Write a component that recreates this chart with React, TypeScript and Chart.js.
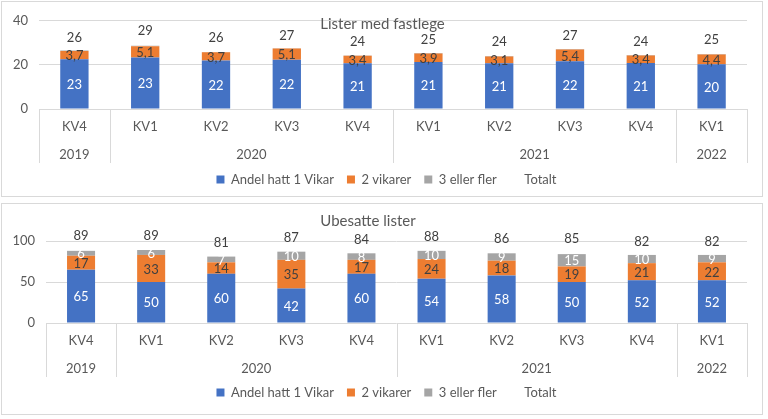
import React, { useEffect, useRef } from "react";
import { Chart, registerables } from "chart.js";
Chart.register(...registerables);

const quarters = ["KV4", "KV1", "KV2", "KV3", "KV4", "KV1", "KV2", "KV3", "KV4", "KV1"];
const years = ["2019", "2020", "2021", "2022"];
const yearSpans = [1, 4, 4, 1];
const seriesNames = ["Andel hatt 1 Vikar", "2 vikarer", "3 eller fler", "Totalt"];

const fastlegeOne = [22.6, 23.4, 22.0, 22.3, 20.7, 21.3, 20.7, 21.6, 20.9, 20.3];
const fastlegeTwo = [3.7, 5.1, 3.7, 5.1, 3.4, 3.9, 3.1, 5.4, 3.4, 4.4];
const fastlegeThree = [0.2, 0.2, 0.2, 0.2, 0.2, 0.2, 0.2, 0.2, 0.2, 0.2];
const fastlegeTotal = [26, 29, 26, 27, 24, 25, 24, 27, 24, 25];

const ubesatteOne = [65, 50, 60, 42, 60, 54, 58, 50, 52, 52];
const ubesatteTwo = [17, 33, 14, 35, 17, 24, 18, 19, 21, 22];
const ubesatteThree = [6, 6, 7, 10, 8, 10, 9, 15, 10, 9];
const ubesatteTotal = [89, 89, 81, 87, 84, 88, 86, 85, 82, 82];

const BLUE = "#4472C4";
const ORANGE = "#ED7D31";
const GRAY = "#A5A5A5";
const TEXT = "#595959";
const DARK = "#404040";
const GRID = "#D9D9D9";
const FONT = "Lato";

type Cfg = {
  title: string;
  titleX: number;
  titleY: number;
  height: number;
  one: number[];
  two: number[];
  three: number[];
  total: number[];
  yMax: number;
  yStep: number;
  padTop: number;
  padBottom: number;
  yWidth: number;
  xHeight: number;
  fmtTwo: (v: number) => string;
  showThree: boolean;
};

const intFmt = (v: number) => String(Math.round(v));
const decFmt = (v: number) => v.toFixed(1).replace(".", ",");

function ChartBox({ cfg, boxTop }: { cfg: Cfg; boxTop: number }) {
  const ref = useRef<HTMLCanvasElement | null>(null);
  useEffect(() => {
    if (!ref.current) return;
    const labelPlugin = {
      id: "segLabels",
      afterDatasetsDraw(chart: any) {
        const ctx = chart.ctx;
        ctx.save();
        ctx.font = `13px ${FONT}`;
        ctx.textAlign = "center";
        ctx.textBaseline = "middle";
        const specs = [
          { color: "#FFFFFF", fmt: intFmt, show: true },
          { color: DARK, fmt: cfg.fmtTwo, show: true },
          { color: "#FFFFFF", fmt: intFmt, show: cfg.showThree },
        ];
        specs.forEach((s, di) => {
          if (!s.show) return;
          const meta = chart.getDatasetMeta(di);
          meta.data.forEach((el: any, i: number) => {
            const v = chart.data.datasets[di].data[i];
            ctx.fillStyle = s.color;
            ctx.fillText(s.fmt(v), el.x, (el.y + el.base) / 2 + 1);
          });
        });
        const tmeta = chart.getDatasetMeta(3);
        ctx.fillStyle = DARK;
        tmeta.data.forEach((el: any, i: number) => {
          ctx.fillText(intFmt(chart.data.datasets[3].data[i]), el.x, el.y - 14);
        });
        ctx.restore();
      },
    };
    const axisPlugin = {
      id: "groupAxis",
      afterDraw(chart: any) {
        const ctx = chart.ctx;
        const xs = chart.scales.x;
        const bottom = chart.chartArea.bottom;
        const half = (xs.getPixelForValue(1) - xs.getPixelForValue(0)) / 2;
        ctx.save();
        ctx.strokeStyle = GRID;
        ctx.lineWidth = 1;
        ctx.font = `13px ${FONT}`;
        ctx.fillStyle = TEXT;
        ctx.textAlign = "center";
        ctx.textBaseline = "middle";
        const line = (x: number) => {
          ctx.beginPath();
          ctx.moveTo(Math.round(x) + 0.5, bottom);
          ctx.lineTo(Math.round(x) + 0.5, bottom + 54);
          ctx.stroke();
        };
        line(xs.getPixelForValue(0) - half);
        let idx = 0;
        yearSpans.forEach((span, k) => {
          const x0 = xs.getPixelForValue(idx) - half;
          const x1 = xs.getPixelForValue(idx + span - 1) + half;
          ctx.fillText(years[k], (x0 + x1) / 2, bottom + 46);
          line(x1);
          idx += span;
        });
        ctx.font = `15px ${FONT}`;
        ctx.fillText(cfg.title, cfg.titleX, cfg.titleY);
        ctx.restore();
      },
    };
    const chart = new Chart(ref.current, {
      type: "bar",
      data: {
        labels: quarters,
        datasets: [
          { label: seriesNames[0], data: cfg.one, backgroundColor: BLUE, stack: "s" } as any,
          { label: seriesNames[1], data: cfg.two, backgroundColor: ORANGE, stack: "s" },
          { label: seriesNames[2], data: cfg.three, backgroundColor: GRAY, stack: "s" },
          {
            type: "line",
            label: seriesNames[3],
            data: cfg.total,
            stack: "t",
            showLine: false,
            pointRadius: 0,
            backgroundColor: "rgba(0,0,0,0)",
            borderColor: "rgba(0,0,0,0)",
          },
        ],
      },
      plugins: [labelPlugin, axisPlugin],
      options: {
        animation: false,
        responsive: true,
        maintainAspectRatio: false,
        layout: { padding: { top: cfg.padTop, left: 9, right: 0, bottom: cfg.padBottom } },
        datasets: { bar: { barPercentage: 0.4, categoryPercentage: 1.0 } },
        scales: {
          x: {
            stacked: true,
            grid: { display: false, drawTicks: false },
            border: { display: false },
            ticks: { color: TEXT, font: { family: FONT, size: 13 }, padding: 10, maxRotation: 0 },
            afterFit: (s: any) => {
              s.height = cfg.xHeight;
            },
          },
          y: {
            stacked: true,
            min: 0,
            max: cfg.yMax,
            grid: { color: GRID, drawTicks: false },
            border: { display: false },
            ticks: { stepSize: cfg.yStep, color: TEXT, font: { family: FONT, size: 13 }, padding: 11 },
            afterFit: (s: any) => {
              s.width = cfg.yWidth;
            },
          },
          pad: {
            position: "right",
            display: true,
            grid: { display: false, drawTicks: false },
            border: { display: false },
            ticks: { display: false },
            afterFit: (s: any) => {
              s.width = 15;
            },
          },
        },
        plugins: {
          legend: {
            position: "bottom",
            labels: {
              color: TEXT,
              font: { family: FONT, size: 13 },
              boxWidth: 8,
              boxHeight: 8,
              padding: 13,
              generateLabels: (c: any) =>
                c.data.datasets.map((d: any, i: number) => ({
                  text: d.label,
                  fillStyle: i < 3 ? d.backgroundColor : "rgba(0,0,0,0)",
                  strokeStyle: "rgba(0,0,0,0)",
                  lineWidth: 0,
                  fontColor: TEXT,
                  datasetIndex: i,
                  hidden: false,
                })),
            },
          },
          tooltip: { enabled: false },
        },
      } as any,
    });
    return () => chart.destroy();
  }, [cfg]);
  return (
    <div
      style={{
        position: "absolute",
        left: 1,
        top: boxTop,
        width: 762,
        height: cfg.height + 2,
        border: "1px solid #D9D9D9",
        boxSizing: "border-box",
        background: "#fff",
      }}
    >
      <div style={{ position: "absolute", left: 0, top: 0, width: 760, height: cfg.height }}>
        <canvas ref={ref} />
      </div>
    </div>
  );
}

const topCfg: Cfg = {
  title: "Lister med fastlege",
  titleX: 380.5,
  titleY: 22,
  height: 194,
  one: fastlegeOne,
  two: fastlegeTwo,
  three: fastlegeThree,
  total: fastlegeTotal,
  yMax: 40,
  yStep: 20,
  padTop: 13,
  padBottom: 0,
  yWidth: 28,
  xHeight: 51,
  fmtTwo: decFmt,
  showThree: false,
};

const bottomCfg: Cfg = {
  title: "Ubesatte lister",
  titleX: 366,
  titleY: 17,
  height: 210,
  one: ubesatteOne,
  two: ubesatteTwo,
  three: ubesatteThree,
  total: ubesatteTotal,
  yMax: 100,
  yStep: 50,
  padTop: 37,
  padBottom: 5,
  yWidth: 35,
  xHeight: 50,
  fmtTwo: intFmt,
  showThree: true,
};

export default function App() {
  useEffect(() => {
    document.body.style.margin = "0";
  }, []);
  return (
    <div style={{ position: "relative", width: 768, height: 419, background: "#fff" }}>
      <ChartBox cfg={topCfg} boxTop={1} />
      <ChartBox cfg={bottomCfg} boxTop={203} />
    </div>
  );
}
